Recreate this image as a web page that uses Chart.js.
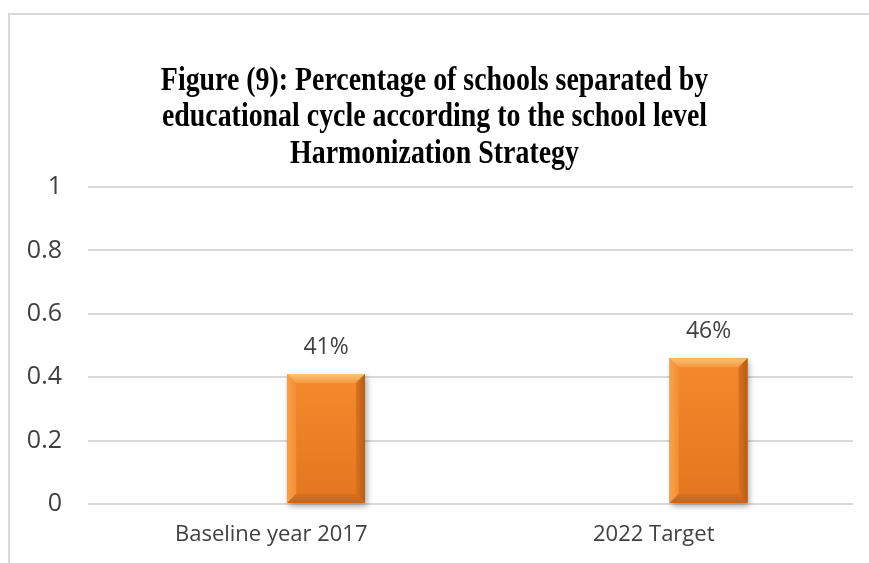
<!DOCTYPE html>
<html>
<head>
<meta charset="utf-8">
<script src="https://cdn.jsdelivr.net/npm/chart.js@4/dist/chart.umd.min.js"></script>
<style>
  html, body { margin: 0; padding: 0; background: #ffffff; }
  #wrap { position: relative; width: 869px; height: 563px; overflow: hidden; }
  #frame {
    position: absolute; left: 8px; top: 13px; right: -10px; bottom: -10px;
    border-left: 2px solid #d9d9d9; border-top: 2px solid #d9d9d9;
  }
  canvas { position: absolute; left: 0; top: 0; }
</style>
</head>
<body>
<div id="wrap">
  <div id="frame"></div>
  <canvas id="cycleChart" width="869" height="563"></canvas>
</div>
<script>
// Data
const categories = ['Baseline year 2017', '2022 Target'];
const shareValues = [0.41, 0.46];
const yTicks = [0, 0.2, 0.4, 0.6, 0.8, 1];
const titleLines = [
    'Figure (9): Percentage of schools separated by',
    'educational cycle according to the school level',
    'Harmonization Strategy'
];

const colors = {
    bar: '#EF8128',
    darkSide: '#B65D17',
    darkBottom: '#C4651B',
    grid: '#d9d9d9',
    text: '#404040',
    title: '#000000'
};

// narrow bold serif title, drawn a bit condensed
const condensedTitle = {
    id: 'condensedTitle',
    afterDraw(chart) {
        const ctx = chart.ctx;
        const cx = chart.width / 2;
        ctx.save();
        ctx.font = 'bold 33px "Liberation Serif", "Times New Roman", serif';
        ctx.fillStyle = colors.title;
        ctx.textAlign = 'center';
        ctx.textBaseline = 'middle';
        ctx.translate(cx, 0);
        ctx.scale(0.845, 1);
        titleLines.forEach((line, i) => {
            ctx.fillText(line, 0, 81 + i * 36.5);
        });
        ctx.restore();
    }
};

// bevel look on the bars, plus soft shadow
const bevelBars = {
    id: 'bevelBars',
    beforeDatasetsDraw(chart) {
        const ctx = chart.ctx;
        chart.getDatasetMeta(1).data.forEach(bar => {
            const w = bar.width, x0 = bar.x - w / 2;
            ctx.save();
            ctx.shadowColor = 'rgba(0,0,0,0.35)';
            ctx.shadowBlur = 6;
            ctx.shadowOffsetX = 2;
            ctx.shadowOffsetY = 3;
            ctx.fillStyle = '#999';
            ctx.fillRect(x0, bar.y, w, bar.base - bar.y);
            ctx.restore();
        });
    },
    afterDatasetsDraw(chart) {
        const ctx = chart.ctx;
        const b = 9;
        chart.getDatasetMeta(1).data.forEach(bar => {
            const w = bar.width;
            const x0 = bar.x - w / 2, x1 = bar.x + w / 2;
            const y0 = bar.y, y1 = bar.base;
            ctx.save();
            const g = ctx.createLinearGradient(0, y0, 0, y1);
            g.addColorStop(0, '#F48A2D');
            g.addColorStop(1, '#E2761F');
            ctx.fillStyle = g;
            ctx.fillRect(x0, y0, w, y1 - y0);
            const poly = (pts, fill) => {
                ctx.beginPath();
                ctx.moveTo(pts[0][0], pts[0][1]);
                pts.slice(1).forEach(p => ctx.lineTo(p[0], p[1]));
                ctx.closePath();
                ctx.fillStyle = fill;
                ctx.fill();
            };
            const top = ctx.createLinearGradient(0, y0, 0, y0 + b);
            top.addColorStop(0, '#FCC27A');
            top.addColorStop(1, '#F59A3E');
            poly([[x0, y0], [x1, y0], [x1 - b, y0 + b], [x0 + b, y0 + b]], top);
            const left = ctx.createLinearGradient(x0, 0, x0 + b, 0);
            left.addColorStop(0, '#F7A24C');
            left.addColorStop(1, '#F28E33');
            poly([[x0, y0], [x0 + b, y0 + b], [x0 + b, y1 - b], [x0, y1]], left);
            const right = ctx.createLinearGradient(x1 - b, 0, x1, 0);
            right.addColorStop(0, '#DA7221');
            right.addColorStop(1, colors.darkSide);
            poly([[x1, y0], [x1, y1], [x1 - b, y1 - b], [x1 - b, y0 + b]], right);
            const bottom = ctx.createLinearGradient(0, y1 - b, 0, y1);
            bottom.addColorStop(0, '#D96F1F');
            bottom.addColorStop(1, colors.darkBottom);
            poly([[x0, y1], [x0 + b, y1 - b], [x1 - b, y1 - b], [x1, y1]], bottom);
            ctx.restore();
        });
    }
};

// value labels above bars
const valueLabels = {
    id: 'valueLabels',
    afterDatasetsDraw(chart) {
        const ctx = chart.ctx;
        const ds = chart.data.datasets[1];
        ctx.save();
        ctx.font = '23px "Open Sans", sans-serif';
        ctx.fillStyle = colors.text;
        ctx.textAlign = 'center';
        ctx.textBaseline = 'bottom';
        chart.getDatasetMeta(1).data.forEach((bar, i) => {
            const v = ds.data[i];
            ctx.fillText(Math.round(v * 100) + '%', bar.x, bar.y - 15);
        });
        ctx.restore();
    }
};

new Chart(document.getElementById('cycleChart'), {
    type: 'bar',
    data: {
        labels: categories,
        datasets: [{
            label: 'Series1',
            data: categories.map(() => null),
            backgroundColor: 'transparent'
        }, {
            label: 'Series2',
            data: shareValues,
            backgroundColor: colors.bar,
            borderWidth: 0,
            categoryPercentage: 0.49,
            barPercentage: 0.83
        }]
    },
    options: {
        responsive: false,
        animation: false,
        layout: { padding: { top: 187, right: 16, bottom: 0, left: 16 } },
        plugins: {
            legend: { display: false },
            tooltip: { enabled: false },
            title: { display: false }
        },
        scales: {
            x: {
                grid: { display: false },
                border: { display: false },
                ticks: {
                    color: colors.text,
                    font: { family: '"Open Sans", sans-serif', size: 22 },
                    padding: 10,
                    labelOffset: -8
                },
                afterFit(scale) { scale.height = 59; }
            },
            y: {
                min: 0,
                max: 1,
                afterBuildTicks(scale) { scale.ticks = yTicks.map(v => ({ value: v })); },
                grid: { color: colors.grid, lineWidth: 2, drawTicks: false },
                border: { display: false },
                ticks: {
                    color: colors.text,
                    font: { family: '"Open Sans", sans-serif', size: 25 },
                    padding: 26,
                    callback: v => String(v)
                },
                afterFit(scale) { scale.width = 72; }
            }
        }
    },
    plugins: [bevelBars, valueLabels, condensedTitle]
});
</script>
</body>
</html>
